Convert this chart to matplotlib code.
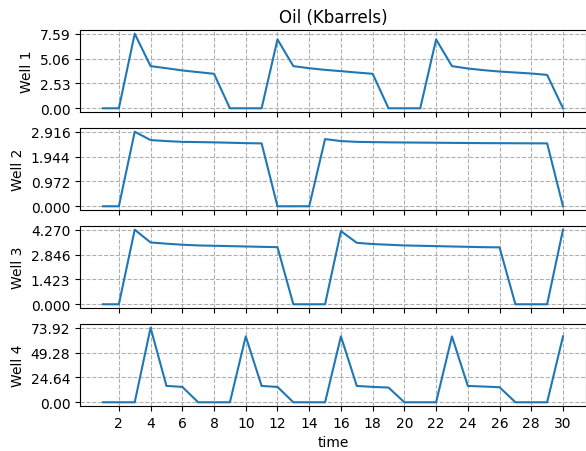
import numpy as np
import matplotlib
matplotlib.use("Agg")
import matplotlib.pyplot as plt

time = list(range(1, 31))

well1 = [0, 0, 7.59, 4.29, 4.08, 3.85, 3.68, 3.51, 0, 0,
         0, 7.01, 4.29, 4.08, 3.91, 3.78, 3.64, 3.51, 0, 0,
         0, 7.01, 4.29, 4.05, 3.88, 3.74, 3.64, 3.54, 3.40, 0]
well2 = [0, 0, 2.916, 2.589, 2.55, 2.52, 2.51, 2.50, 2.485, 2.47,
         2.46, 0, 0, 0, 2.628, 2.55, 2.52, 2.51, 2.50, 2.495,
         2.49, 2.485, 2.48, 2.475, 2.47, 2.468, 2.465, 2.462, 2.46, 0]
well3 = [0, 0, 4.2696, 3.54, 3.47, 3.41, 3.37, 3.35, 3.33, 3.31,
         3.29, 3.27, 0, 0, 0, 4.19, 3.52, 3.45, 3.41, 3.37,
         3.35, 3.33, 3.31, 3.29, 3.27, 3.26, 0, 0, 0, 4.2696]
well4 = [0, 0, 0, 73.92, 16.24, 15.25, 0, 0, 0, 65.3,
         16.2, 15.2, 0, 0, 0, 65.3, 16.2, 15.25, 14.6, 0,
         0, 0, 65.3, 16.2, 15.6, 14.9, 0, 0, 0, 65.3]

wells = [well1, well2, well3, well4]
names = ["Well 1", "Well 2", "Well 3", "Well 4"]
decimals = [2, 3, 3, 2]

fig, axes = plt.subplots(4, 1, sharex=True, figsize=(5.86, 4.52), dpi=100)
fig.subplots_adjust(left=80/586, right=1.0, top=1-31/452, bottom=1-407/452, hspace=0.195)

for ax, vals, name, dec in zip(axes, wells, names, decimals):
    ax.plot(time, vals, color="#1f77b4", lw=1.5)
    ticks = np.linspace(0, max(vals), 4)
    ax.set_yticks(ticks)
    ax.set_yticklabels([f"{t:.{dec}f}" for t in ticks])
    ax.set_ylabel(name)
    ax.grid(True, linestyle="--", color="#b0b0b0")

axes[0].set_title("Oil (Kbarrels)")
axes[-1].set_xticks(range(2, 31, 2))
axes[-1].set_xlabel("time")

fig.savefig("out.png", dpi=100)
